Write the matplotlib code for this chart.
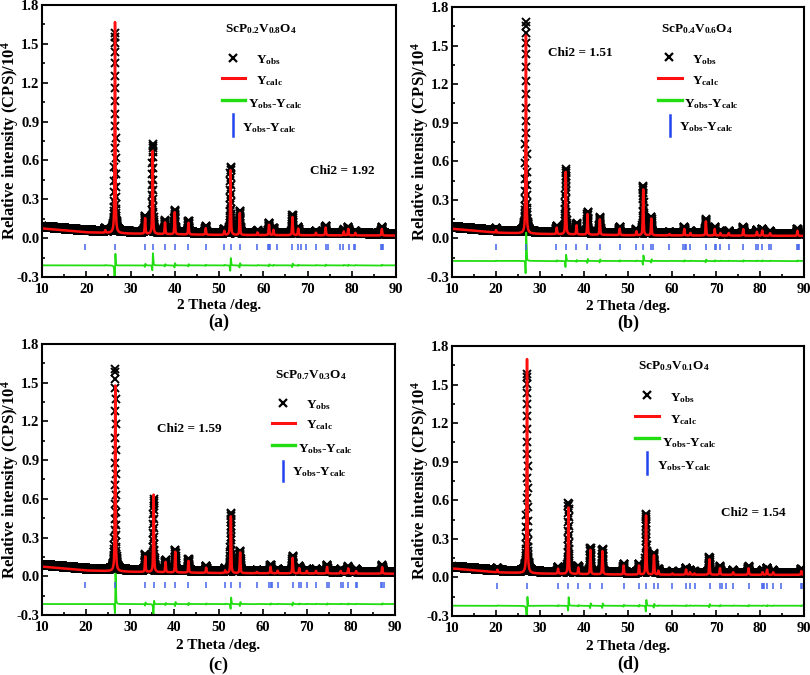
import numpy as np
import matplotlib
matplotlib.use("Agg")
import matplotlib.pyplot as plt
from matplotlib.ticker import MultipleLocator

plt.rcParams["font.family"] = ["Liberation Serif", "DejaVu Serif"]
plt.rcParams["font.weight"] = "bold"
plt.rcParams["mathtext.fontset"] = "custom"
plt.rcParams["mathtext.rm"] = "Liberation Serif:bold"
plt.rcParams["mathtext.it"] = "Liberation Serif:bold"
plt.rcParams["mathtext.bf"] = "Liberation Serif:bold"
plt.rcParams["mathtext.default"] = "rm"

# --- data ----------------------------------------------------------------
# peak positions (deg), calculated and observed peak heights (x10^4 CPS)
pos_a = [24.3, 26.5, 33.3, 35.0, 37.8, 40.0, 43.1, 47.0, 51.2, 52.6, 54.7, 58.7,
         61.3, 62.3, 66.6, 67.9, 71.9, 74.1, 78.2, 79.2, 80.8, 86.8]
calc_a = [0.02, 1.63, 0.12, 0.64, 0.09, 0.17, 0.09, 0.05, 0.03, 0.50, 0.17, 0.02,
          0.08, 0.04, 0.14, 0.05, 0.02, 0.06, 0.03, 0.05, 0.02, 0.05]
obs_a = [0.02, 1.53, 0.12, 0.68, 0.09, 0.17, 0.09, 0.05, 0.03, 0.51, 0.17, 0.02,
         0.08, 0.04, 0.14, 0.05, 0.02, 0.06, 0.03, 0.05, 0.02, 0.05]
bragg_a = [19.66, 26.45, 33.25, 35.06, 37.77, 40.04, 43.06, 46.98, 51.21, 52.64,
           54.75, 58.68, 61.1, 61.4, 61.6, 63.2, 66.6, 67.96, 68.57, 69.77, 71.9,
           74.2, 74.6, 77.3, 78.0, 79.3, 80.4, 80.8, 86.6, 86.8, 87.0]
bg_a = [0.075, 0.045, 0.035, 0.025, 0.02]

pos_b = [20.0, 26.8, 33.8, 35.85, 38.3, 40.8, 43.6, 48.1, 51.9, 53.45, 55.3, 59.4,
         62.8, 64.2, 67.7, 69.7, 71.0, 72.9, 76.2, 79.3, 80.5, 82.3, 88.5]
calc_b = [0.02, 1.54, 0.05, 0.49, 0.07, 0.16, 0.12, 0.05, 0.03, 0.36, 0.13, 0.01,
          0.05, 0.02, 0.11, 0.05, 0.02, 0.02, 0.05, 0.03, 0.04, 0.02, 0.04]
obs_b = [0.02, 1.63, 0.05, 0.49, 0.07, 0.16, 0.12, 0.05, 0.03, 0.37, 0.13, 0.01,
         0.05, 0.02, 0.11, 0.05, 0.02, 0.02, 0.05, 0.03, 0.04, 0.02, 0.04]
bragg_b = [19.93, 26.76, 33.73, 35.85, 38.28, 40.78, 43.59, 48.14, 51.93, 53.44,
           55.19, 55.72, 59.36, 62.6, 62.9, 63.1, 64.2, 67.7, 69.7, 70.0, 71.0,
           72.9, 76.2, 79.2, 79.5, 80.5, 82.0, 82.6, 88.3, 88.6, 88.9]
bg_b = [0.075, 0.045, 0.035, 0.025, 0.02]

pos_c = [26.6, 33.4, 35.3, 38.0, 40.2, 43.2, 47.2, 51.5, 52.8, 54.9, 58.7, 61.8,
         63.4, 66.8, 68.3, 70.0, 72.1, 74.6, 77.7, 79.4, 81.2, 87.1]
calc_c = [1.44, 0.12, 0.60, 0.08, 0.16, 0.09, 0.04, 0.02, 0.44, 0.16, 0.01, 0.05,
          0.02, 0.12, 0.04, 0.02, 0.02, 0.05, 0.02, 0.04, 0.02, 0.05]
obs_c = [1.56, 0.12, 0.55, 0.08, 0.16, 0.09, 0.04, 0.02, 0.45, 0.16, 0.01, 0.05,
         0.02, 0.12, 0.04, 0.02, 0.02, 0.05, 0.02, 0.04, 0.02, 0.05]
bragg_c = [19.81, 26.6, 33.4, 35.28, 37.9, 40.2, 43.2, 47.2, 51.5, 52.8, 54.9,
           58.7, 61.5, 61.8, 62.1, 63.4, 66.8, 68.3, 68.7, 70.0, 72.1, 74.5, 75.1,
           77.7, 78.3, 79.4, 81.1, 81.3, 86.8, 87.1, 87.4]
bg_c = [0.075, 0.045, 0.035, 0.025, 0.02]

pos_d = [20.3, 27.05, 34.1, 36.45, 38.7, 41.45, 44.2, 49.0, 52.5, 54.1, 55.9, 56.9,
         60.1, 63.2, 64.1, 65.1, 68.5, 70.9, 73.9, 77.4, 80.6, 81.6, 83.0, 89.4]
calc_d = [0.02, 1.68, 0.04, 0.52, 0.05, 0.19, 0.18, 0.07, 0.07, 0.46, 0.15, 0.03,
          0.01, 0.04, 0.02, 0.01, 0.12, 0.05, 0.02, 0.05, 0.02, 0.04, 0.02, 0.03]
obs_d = [0.02, 1.54, 0.04, 0.54, 0.05, 0.19, 0.18, 0.07, 0.07, 0.46, 0.15, 0.03,
         0.01, 0.04, 0.02, 0.01, 0.12, 0.05, 0.02, 0.05, 0.02, 0.04, 0.02, 0.03]
bragg_d = [20.31, 27.06, 34.03, 36.46, 38.66, 41.46, 44.19, 49.05, 52.53, 54.05,
           55.87, 56.85, 60.11, 63.15, 64.06, 65.12, 68.53, 70.8, 71.26, 72.17,
           73.91, 77.48, 80.36, 80.6, 80.9, 81.65, 83.0, 84.75, 89.3, 89.6, 89.9]
bg_d = [0.07, 0.04, 0.03, 0.022, 0.02]

bg_knots = [10, 20, 30, 50, 90]
names = ["ScP$_{0.2}$V$_{0.8}$O$_4$", "ScP$_{0.4}$V$_{0.6}$O$_4$",
         "ScP$_{0.7}$V$_{0.3}$O$_4$", "ScP$_{0.9}$V$_{0.1}$O$_4$"]
chi2 = [1.92, 1.51, 1.59, 1.54]
diff_offset = [-0.225, -0.19, -0.23, -0.235]
letters = ["(a)", "(b)", "(c)", "(d)"]


def profile(theta, pos, heights, shift=0.0, fwhm=0.2, eta=0.6):
    y = np.zeros_like(theta)
    for p, h in zip(pos, heights):
        d = (theta - p - shift) / (fwhm / 2)
        y += h * (eta / (1 + d ** 2) + (1 - eta) * np.exp(-np.log(2) * d ** 2))
    return y


theta = np.arange(10, 90.001, 0.02)

panels = [
    (pos_a, calc_a, obs_a, bragg_a, bg_a),
    (pos_b, calc_b, obs_b, bragg_b, bg_b),
    (pos_c, calc_c, obs_c, bragg_c, bg_c),
    (pos_d, calc_d, obs_d, bragg_d, bg_d),
]

# axes boxes (left, bottom, width, height) in figure fraction
boxes = [
    (42 / 810, 1 - 277 / 675, 354 / 810, 272 / 675),
    (452 / 810, 1 - 277 / 675, 352 / 810, 270 / 675),
    (42 / 810, 1 - 615 / 675, 353 / 810, 271 / 675),
    (452 / 810, 1 - 616 / 675, 352 / 810, 270 / 675),
]

# legend layout per panel (axes fraction)
legend_pos = [
    dict(title=(0.619, 0.912), x=(0.540, 0.805), xl=(0.605, 0.798),
         red=(0.508, 0.573, 0.732), redl=(0.605, 0.721),
         grn=(0.508, 0.573, 0.651), grnl=(0.582, 0.636),
         blu=(0.540, 0.599, 0.518), blul=(0.565, 0.548), chi=(0.847, 0.390)),
    dict(title=(0.696, 0.919), x=(0.616, 0.815), xl=(0.682, 0.804),
         red=(0.585, 0.653, 0.737), redl=(0.682, 0.726),
         grn=(0.585, 0.653, 0.656), grnl=(0.659, 0.641),
         blu=(0.619, 0.600, 0.522), blul=(0.645, 0.556), chi=(0.364, 0.830)),
    dict(title=(0.762, 0.886), x=(0.683, 0.782), xl=(0.748, 0.775),
         red=(0.652, 0.717, 0.708), redl=(0.748, 0.701),
         grn=(0.652, 0.717, 0.627), grnl=(0.725, 0.613),
         blu=(0.683, 0.570, 0.494), blul=(0.708, 0.528), chi=(0.416, 0.686)),
    dict(title=(0.631, 0.926), x=(0.554, 0.819), xl=(0.619, 0.807),
         red=(0.520, 0.588, 0.741), redl=(0.619, 0.726),
         grn=(0.520, 0.588, 0.659), grnl=(0.597, 0.641),
         blu=(0.554, 0.607, 0.526), blul=(0.582, 0.556), chi=(0.855, 0.381)),
]

xlabel_y = [-0.105, -0.109, -0.112, -0.112]
letter_y = [-0.168, -0.17, -0.185, -0.18]

fig = plt.figure(figsize=(8.1, 6.75), dpi=100)

for i, (pos, calc_h, obs_h, bragg, bg_y) in enumerate(panels):
    ax = fig.add_axes(boxes[i])
    bg = np.interp(theta, bg_knots, bg_y)
    y_calc = bg + profile(theta, pos, calc_h)
    y_obs = bg + 0.015 + profile(theta, pos, obs_h, shift=0.015)
    y_diff = y_obs - y_calc + diff_offset[i]

    ax.plot(theta, y_obs, ls="none", marker="x", ms=6, mew=1.4, color="black")
    ax.plot(theta, y_calc, color="#ff1010", lw=1.8)
    ax.plot(theta, y_diff, color="#22dd11", lw=1.3)
    ax.vlines(bragg, -0.09, -0.045, color="#4466ee", lw=1.1)

    ax.set_xlim(10, 90)
    ax.set_ylim(-0.3, 1.8)
    ax.xaxis.set_major_locator(MultipleLocator(10))
    ax.xaxis.set_minor_locator(MultipleLocator(5))
    ax.yaxis.set_major_locator(MultipleLocator(0.3))
    ax.yaxis.set_minor_locator(MultipleLocator(0.15))
    ax.yaxis.set_major_formatter(plt.FuncFormatter(lambda v, p: f"{v:.1f}"))
    ax.tick_params(which="both", direction="in", top=False, right=False,
                   labelsize=10.5, width=1.2)
    ax.tick_params(axis="x", pad=4)
    ax.tick_params(axis="y", pad=2)
    ax.tick_params(which="major", length=4)
    ax.tick_params(which="minor", length=2.5)
    for s in ax.spines.values():
        s.set_linewidth(1.5)

    ax.set_ylabel("Relative intensity (CPS)/10$^4$", fontsize=12, fontweight="bold")
    ax.yaxis.label.set_va("center")
    ax.yaxis.set_label_coords(-0.09, 0.5)
    ax.set_xlabel("2 Theta /deg.", fontsize=11, fontweight="bold")
    ax.xaxis.label.set_va("center")
    ax.xaxis.set_label_coords(0.5, xlabel_y[i])
    ax.text(0.5, letter_y[i], letters[i], transform=ax.transAxes, fontsize=13,
            fontweight="bold", ha="center", va="center")

    lp = legend_pos[i]
    tr = ax.transAxes
    ax.text(*lp["title"], names[i], transform=tr, fontsize=9.5, ha="center", va="center")
    ax.plot([lp["x"][0]], [lp["x"][1]], transform=tr, marker="x", ms=6, mew=1.6,
            color="black", clip_on=False)
    ax.text(*lp["xl"], "$Y_{obs}$", transform=tr, fontsize=9.5, va="center")
    ax.plot(lp["red"][:2], [lp["red"][2]] * 2, transform=tr, color="#ff1010", lw=2.2)
    ax.text(*lp["redl"], "$Y_{calc}$", transform=tr, fontsize=9.5, va="center")
    ax.plot(lp["grn"][:2], [lp["grn"][2]] * 2, transform=tr, color="#22dd11", lw=2.4)
    ax.text(*lp["grnl"], "$Y_{obs}$-$Y_{calc}$", transform=tr, fontsize=9.5, va="center")
    ax.plot([lp["blu"][0]] * 2, lp["blu"][1:], transform=tr, color="#2244ee", lw=1.8)
    ax.text(*lp["blul"], "$Y_{obs}$-$Y_{calc}$", transform=tr, fontsize=9.5, va="center")
    ax.text(*lp["chi"], f"Chi2 = {chi2[i]:.2f}", transform=tr, fontsize=9.5,
            ha="center", va="center")

fig.savefig("out.png", dpi=100)
